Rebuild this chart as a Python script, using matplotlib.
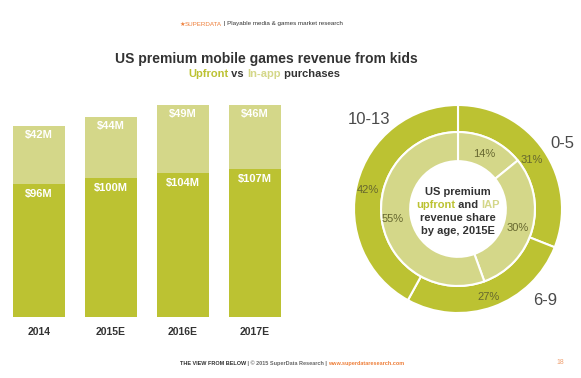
import numpy as np
import matplotlib
matplotlib.use("Agg")
import matplotlib.pyplot as plt
from matplotlib.offsetbox import TextArea, HPacker, AnnotationBbox

# ---------------------------------------------------------------------------
# data
# ---------------------------------------------------------------------------
years = ["2014", "2015E", "2016E", "2017E"]
upfront = [96, 100, 104, 107]      # $M, lower segment
in_app = [42, 44, 49, 46]          # $M, upper segment

ages = ["0-5", "6-9", "10-13"]
upfront_share = [31, 27, 42]       # outer ring, %
iap_share = [14, 30, 55]           # inner ring, %

DARK = "#BCC232"
LIGHT = "#D4D789"
INK = "#333333"
GREY = "#666666"
ORANGE = "#EE7F3A"
FONT = ["Liberation Sans", "DejaVu Sans"]

plt.rcParams["font.family"] = FONT

W, H = 581, 378
fig = plt.figure(figsize=(W / 100, H / 100), dpi=100)


def fpos(x, y):
    """pixel (from top-left) -> figure fraction"""
    return x / W, 1 - y / H


def colored_line(parts, x, y, size, weight="bold"):
    boxes = [TextArea(s, textprops=dict(color=c, fontsize=size, fontweight=weight,
                                        fontfamily=FONT))
             for s, c in parts]
    pack = HPacker(children=boxes, align="baseline", pad=0, sep=0)
    ab = AnnotationBbox(pack, fpos(x, y), xycoords="figure fraction",
                        frameon=False, box_alignment=(0.5, 0.5))
    fig.add_artist(ab)


# ---------------------------------------------------------------------------
# header / titles
# ---------------------------------------------------------------------------
colored_line([("★", ORANGE), ("SUPERDATA", ORANGE),
              (" | Playable media & games market research", INK)],
             261, 24, 4.5, weight="normal")

fig.text(*fpos(266, 59), "US premium mobile games revenue from kids",
         ha="center", va="center", fontsize=10, fontweight="bold", color=INK)
colored_line([("Upfront", DARK), (" vs ", INK), ("In-app", LIGHT),
              (" purchases", INK)], 264, 74, 8)

# ---------------------------------------------------------------------------
# stacked bars
# ---------------------------------------------------------------------------
ax = fig.add_axes([3 / W, 61 / H, 288 / W, 222 / H])
x = np.arange(len(years))
ax.bar(x, upfront, width=0.72, color=DARK)
ax.bar(x, in_app, width=0.72, bottom=upfront, color=LIGHT)

for i in range(len(years)):
    ax.annotate(f"${upfront[i]}M", (x[i], upfront[i]), xytext=(0, -10),
                textcoords="offset pixels", ha="center", va="center",
                color="white", fontsize=8, fontweight="bold")
    ax.annotate(f"${in_app[i]}M", (x[i], upfront[i] + in_app[i]), xytext=(0, -9),
                textcoords="offset pixels", ha="center", va="center",
                color="white", fontsize=8, fontweight="bold")

ax.set_xlim(-0.5, 3.5)
ax.set_ylim(0, 160)
ax.set_xticks(x, years, fontsize=7.5, fontweight="bold", color=INK)
ax.set_yticks([])
ax.tick_params(length=0, pad=7)
for s in ax.spines.values():
    s.set_visible(False)

# ---------------------------------------------------------------------------
# donut
# ---------------------------------------------------------------------------
ax2 = fig.add_axes([328 / W, 39 / H, 260 / W, 260 / H])
wp = dict(edgecolor="white", linewidth=1.5)
ax2.pie(upfront_share, radius=1.0, startangle=90, counterclock=False,
        colors=[DARK] * 3, wedgeprops=dict(width=0.26, **wp))
ax2.pie(iap_share, radius=0.74, startangle=90, counterclock=False,
        colors=[LIGHT] * 3, wedgeprops=dict(width=0.28, **wp))
ax2.set_xlim(-1.25, 1.25)
ax2.set_ylim(-1.25, 1.25)
ax2.axis("off")

pct_color = "#66672f"
out_pos = [(0.71, 0.47), (0.29, -0.85), (-0.87, 0.18)]
in_pos = [(0.25, 0.53), (0.57, -0.18), (-0.63, -0.10)]
for v, (px_, py_) in zip(upfront_share, out_pos):
    ax2.text(px_, py_, f"{v}%", ha="center", va="center", fontsize=8,
             color=pct_color)
for v, (px_, py_) in zip(iap_share, in_pos):
    ax2.text(px_, py_, f"{v}%", ha="center", va="center", fontsize=8,
             color=pct_color)

age_pos = [(1.0, 0.63), (0.84, -0.88), (-0.86, 0.86)]
for a, (px_, py_) in zip(ages, age_pos):
    ax2.text(px_, py_, a, ha="center", va="center", fontsize=12,
             color="#4a4a4a")

# centre label
fig.text(*fpos(458, 192), "US premium", ha="center", va="center",
         fontsize=8, fontweight="bold", color=INK)
colored_line([("upfront", DARK), (" and ", INK), ("IAP", LIGHT)], 458, 205, 8)
fig.text(*fpos(458, 218), "revenue share", ha="center", va="center",
         fontsize=8, fontweight="bold", color=INK)
fig.text(*fpos(458, 231), "by age, 2015E", ha="center", va="center",
         fontsize=8, fontweight="bold", color=INK)

# ---------------------------------------------------------------------------
# footer
# ---------------------------------------------------------------------------
colored_line([("THE VIEW FROM BELOW", INK), (" | © 2015 SuperData Research | ", GREY),
              ("www.superdataresearch.com", ORANGE)], 292, 363, 4)
fig.text(*fpos(560, 363), "18", ha="center", va="center", fontsize=5,
         color="#F0A070")

fig.savefig("out.png", dpi=100)
